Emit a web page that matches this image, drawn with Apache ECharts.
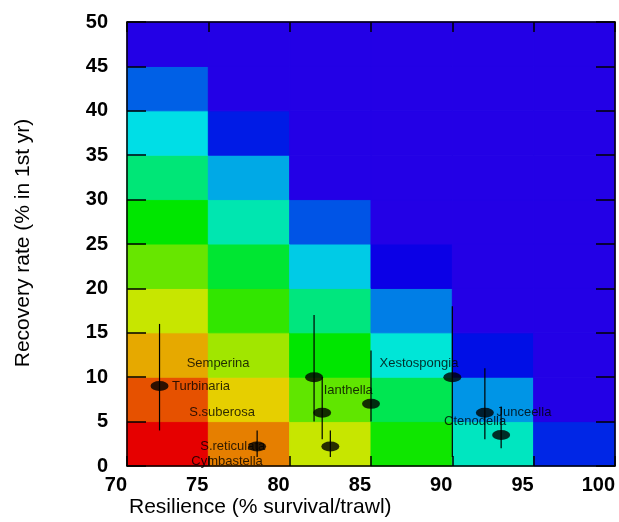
<!DOCTYPE html>
<html><head><meta charset="utf-8">
<script src="https://cdn.jsdelivr.net/npm/echarts@6/dist/echarts.min.js"></script>
<style>html,body{margin:0;padding:0;background:#fff}#c{width:619px;height:522px}</style>
</head><body><div id="c"></div>
<script>
// ---- data ----
const xEdges = [70, 75, 80, 85, 90, 95, 100];
const yEdges = [0, 5, 10, 15, 20, 25, 30, 35, 40, 45, 50];
const xTicks = [70, 75, 80, 85, 90, 95, 100];
const yTicks = [0, 5, 10, 15, 20, 25, 30, 35, 40, 45, 50];
// colour level (hue on rainbow scale) of each cell; one array per x bin, rows from y=0 upward
const level70 = [0, 21, 44, 68, 93, 120, 151, 182, 215, 249];
const level75 = [33, 54, 78, 107, 133, 166, 196, 233, 249, 249];
const level80 = [68, 95, 120, 153, 187, 218, 249, 249, 249, 249];
const level85 = [116, 141, 176, 207, 243, 249, 249, 249, 249, 249];
const level90 = [170, 201, 236, 249, 249, 249, 249, 249, 249, 249];
const level95 = [230, 249, 249, 249, 249, 249, 249, 249, 249, 249];
const levels = [level70, level75, level80, level85, level90, level95];

const speciesNames = ['Turbinaria', 'Semperina', 'S.suberosa', 'S.reticulata', 'Cymbastella', 'Ianthella', 'Xestospongia', 'Junceella', 'Ctenodella'];
const speciesX = [72.0, 81.5, 82.0, 78.0, 82.5, 85.0, 90.0, 92.0, 93.0];
const speciesY = [9.0, 10.0, 6.0, 2.2, 2.2, 7.0, 10.0, 6.0, 3.5];
const errLow  = [4.0, 5.0, 3.0, 1.0, 1.0, 5.0, 1.0, 3.0, 2.0];
const errHigh = [16.0, 17.0, 10.0, 4.0, 4.0, 13.0, 18.0, 11.0, 6.7];
// label anchor (text centre) in data units
const labelX = [74.55, 75.6, 75.85, 76.5, 76.15, 83.6, 87.95, 94.4, 91.4];
const labelY = [9.0, 11.6, 6.0, 2.2, 0.55, 8.5, 11.55, 6.0, 5.0];

// ---- build ----
function hsvColor(h) {
  const c = 230;
  const hp = (h % 360) / 60;
  const x = Math.round(c * (1 - Math.abs(hp % 2 - 1)));
  let r = 0, g = 0, b = 0;
  if (hp < 1) { r = c; g = x; }
  else if (hp < 2) { r = x; g = c; }
  else if (hp < 3) { g = c; b = x; }
  else if (hp < 4) { g = x; b = c; }
  else if (hp < 5) { r = x; b = c; }
  else { r = c; b = x; }
  return 'rgb(' + r + ',' + g + ',' + b + ')';
}
const cellData = [];
for (let i = 0; i < xEdges.length - 1; i++) {
  for (let j = 0; j < yEdges.length - 1; j++) {
    cellData.push([xEdges[i], yEdges[j], xEdges[i + 1], yEdges[j + 1], levels[i][j]]);
  }
}
const pointData = speciesX.map((x, i) => ({ name: speciesNames[i], value: [x, speciesY[i]] }));
const barData = speciesX.map((x, i) => [x, errLow[i], errHigh[i]]);
const labelData = labelX.map((x, i) => ({ name: speciesNames[i], value: [x, labelY[i]] }));

const FONT = "'Liberation Sans', Arial, Helvetica, sans-serif";
const chart = echarts.init(document.getElementById('c'), null, { renderer: 'canvas' });
const axisCommon = {
  type: 'value', z: 10,
  axisLine: { show: true, onZero: false, lineStyle: { color: '#000', width: 1.5 } },
  splitLine: { show: false }
};
chart.setOption({
  animation: false,
  textStyle: { fontFamily: FONT },
  grid: { left: 127, right: 4, top: 22, bottom: 56, containLabel: false },
  xAxis: [
    Object.assign({}, axisCommon, {
      position: 'bottom', min: xTicks[0], max: xTicks[xTicks.length - 1], interval: 5,
      axisTick: { show: true, inside: true, length: 10, lineStyle: { color: '#000', width: 1.5 } },
      axisLabel: { show: true, fontSize: 20, fontWeight: 'bold', color: '#000', align: 'right', margin: 9, fontFamily: FONT }
    }),
    Object.assign({}, axisCommon, {
      position: 'top', min: xTicks[0], max: xTicks[xTicks.length - 1], interval: 5,
      axisTick: { show: true, inside: true, length: 10, lineStyle: { color: '#000', width: 1.5 } },
      axisLabel: { show: false }
    })
  ],
  yAxis: [
    Object.assign({}, axisCommon, {
      position: 'left', min: yTicks[0], max: yTicks[yTicks.length - 1], interval: 5,
      axisTick: { show: true, inside: true, length: 19, lineStyle: { color: '#000', width: 1.5 } },
      axisLabel: { show: true, fontSize: 20, fontWeight: 'bold', color: '#000', margin: 19, fontFamily: FONT }
    }),
    Object.assign({}, axisCommon, {
      position: 'right', min: yTicks[0], max: yTicks[yTicks.length - 1], interval: 5,
      axisTick: { show: true, inside: true, length: 19, lineStyle: { color: '#000', width: 1.5 } },
      axisLabel: { show: false }
    })
  ],
  series: [
    {
      type: 'custom', name: 'cells', z: 1,
      data: cellData,
      encode: { x: [0, 2], y: [1, 3] },
      renderItem: function (params, api) {
        const p0 = api.coord([api.value(0), api.value(1)]);
        const p1 = api.coord([api.value(2), api.value(3)]);
        const col = hsvColor(api.value(4));
        return {
          type: 'rect',
          shape: { x: p0[0], y: p1[1], width: p1[0] - p0[0], height: p0[1] - p1[1] },
          style: { fill: col, stroke: col, lineWidth: 1 }
        };
      }
    },
    {
      type: 'scatter', name: 'labels', z: 3,
      data: labelData,
      symbolSize: 1,
      itemStyle: { color: 'rgba(0,0,0,0)' },
      label: { show: true, position: 'inside', formatter: '{b}', fontSize: 13, color: '#000', fontFamily: FONT }
    },
    {
      type: 'custom', name: 'errorbars', z: 4,
      data: barData,
      encode: { x: 0, y: [1, 2] },
      renderItem: function (params, api) {
        const a = api.coord([api.value(0), api.value(1)]);
        const b = api.coord([api.value(0), api.value(2)]);
        return {
          type: 'line',
          shape: { x1: a[0], y1: a[1], x2: b[0], y2: b[1] },
          style: { stroke: '#000', lineWidth: 1.2 }
        };
      }
    },
    {
      type: 'scatter', name: 'species', z: 5,
      data: pointData,
      symbol: 'circle', symbolSize: [18, 10],
      itemStyle: { color: '#000' }
    }
  ],
  graphic: [
    { type: 'text', left: 129, top: 497, style: { text: 'Resilience (% survival/trawl)', font: '21px ' + FONT, fill: '#000' } },
    { type: 'text', x: 23, y: 243, rotation: Math.PI / 2, style: { text: 'Recovery rate (% in 1st yr)', font: '21px ' + FONT, fill: '#000', textAlign: 'center', textVerticalAlign: 'middle' } }
  ]
});
</script>
</body></html>
